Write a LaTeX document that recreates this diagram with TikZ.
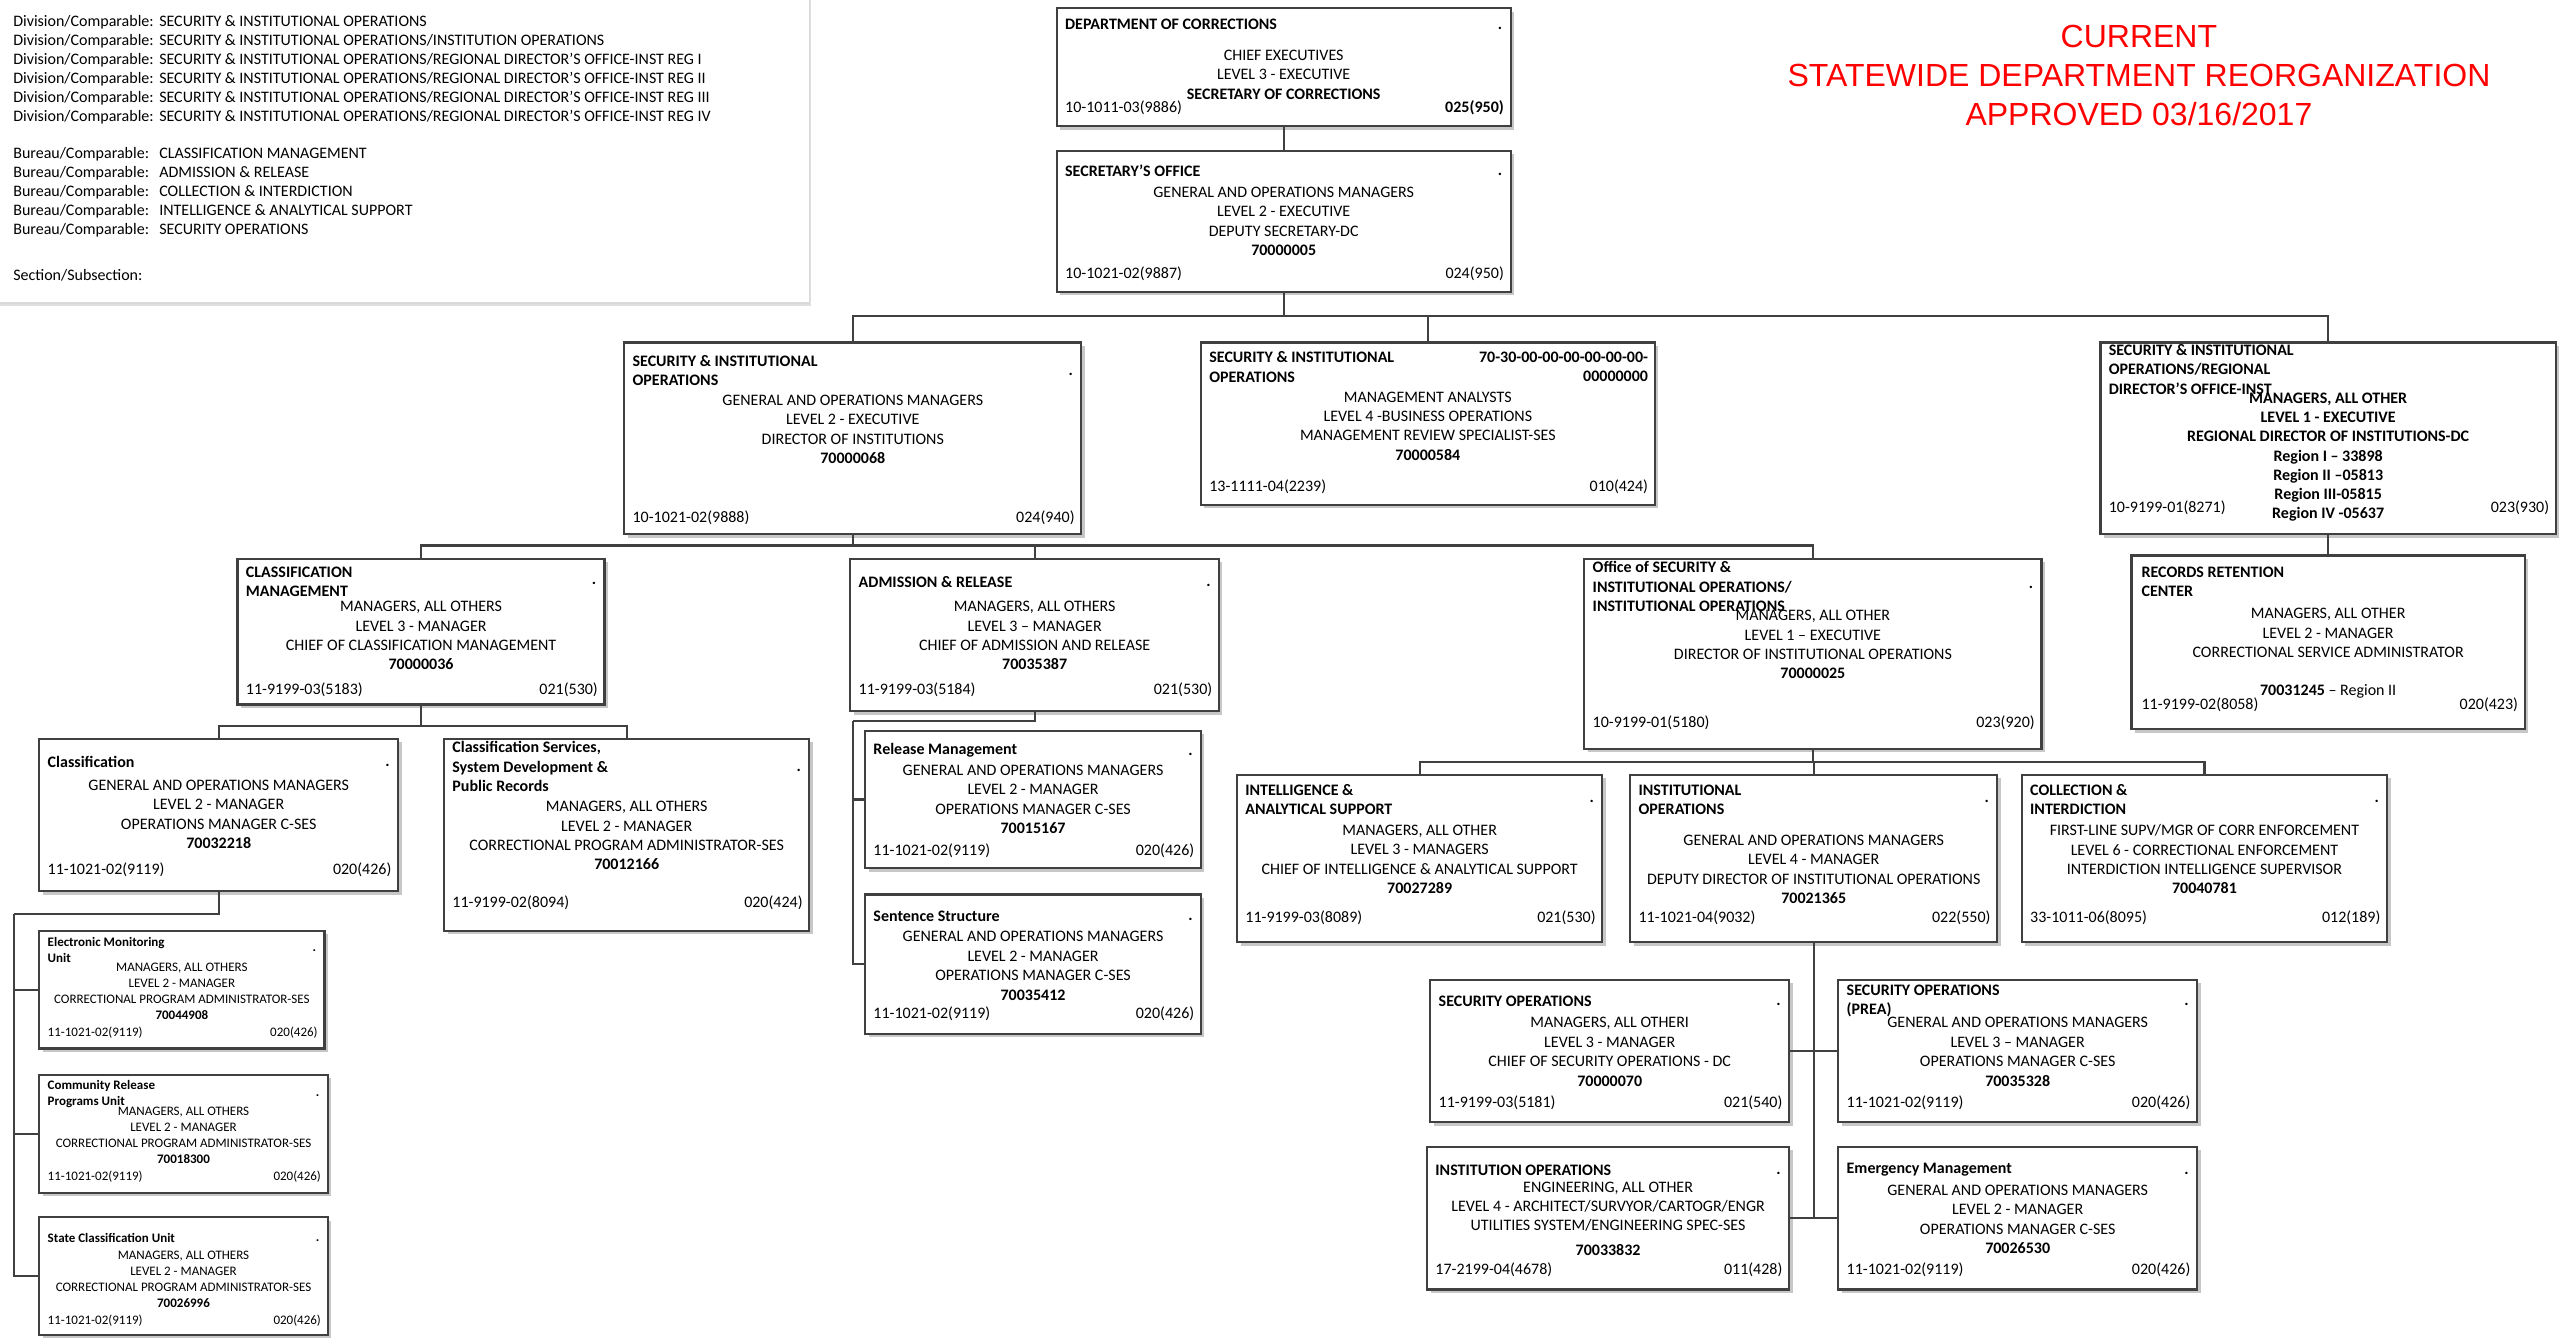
\documentclass[tikz,border=0pt]{standalone}
\usepackage{fontspec}
\setmainfont{Carlito}
\newfontfamily\arialf{Liberation Sans}
\usetikzlibrary{shadows}
\definecolor{boxc}{HTML}{404040}
\newcommand{\OB}[5]{\node[obox, minimum width={(#4-#2)*1.6384pt}, minimum height={(#5-#3)*1.6384pt}] (#1) at ({(#2+#4)/2},{(#3+#5)/2}) {};}
\newcommand{\DCx}{\makebox[146pt][l]{Division/Comparable:}}
\newcommand{\BCx}{\makebox[146pt][l]{Bureau/Comparable:}}
\tikzset{
 obox/.style={draw=boxc, line width=2.2pt, fill=white, inner sep=0pt, drop shadow={shadow xshift=3.5pt, shadow yshift=-3.5pt, fill=black, opacity=0.22}},
 legbox/.style={draw=gray!30, line width=1.5pt, fill=white, inner sep=0pt, drop shadow={shadow xshift=2pt, shadow yshift=-3pt, fill=black, opacity=0.12}},
 conn/.style={draw=boxc, line width=2.2pt},
 ttl/.style={font=\bfseries\fontsize{16}{19.4}\selectfont, align=left, inner sep=0pt, anchor=west},
 bdy/.style={font=\fontsize{16}{19.4}\selectfont, align=center, inner sep=0pt},
 cl/.style={font=\fontsize{16}{19.4}\selectfont, inner sep=0pt, anchor=west},
 cr/.style={font=\fontsize{16}{19.4}\selectfont, inner sep=0pt, anchor=east},
 dotn/.style={font=\bfseries\fontsize{16}{19.4}\selectfont, inner sep=0pt, anchor=base east},
 sttl/.style={ttl, font=\bfseries\fontsize{13}{16}\selectfont},
 sbdy/.style={bdy, font=\fontsize{13}{16}\selectfont},
 scl/.style={cl, font=\fontsize{13}{16}\selectfont},
 scr/.style={cr, font=\fontsize{13}{16}\selectfont},
 sdot/.style={dotn, font=\bfseries\fontsize{13}{16}\selectfont},
 leg/.style={font=\fontsize{16}{19.1}\selectfont, align=left, inner sep=0pt, anchor=west},
 redt/.style={font=\arialf\fontsize{32}{39.3}\selectfont, text=red, align=center, inner sep=0pt}
}
\begin{document}
\begin{tikzpicture}[x=1.6384pt,y=-1.6384pt]
\useasboundingbox (0,0) rectangle (1568,816.65);
% legend
\node[legbox, minimum width={497*1.6384pt}, minimum height={188*1.6384pt}] (legend) at (245.5,91) {};
\node[leg] (legdiv) at (8,42.7) {\DCx SECURITY \& INSTITUTIONAL OPERATIONS\\
\DCx SECURITY \& INSTITUTIONAL OPERATIONS/INSTITUTION OPERATIONS\\
\DCx SECURITY \& INSTITUTIONAL OPERATIONS/REGIONAL DIRECTOR’S OFFICE-INST REG I\\
\DCx SECURITY \& INSTITUTIONAL OPERATIONS/REGIONAL DIRECTOR’S OFFICE-INST REG II\\
\DCx SECURITY \& INSTITUTIONAL OPERATIONS/REGIONAL DIRECTOR’S OFFICE-INST REG III\\
\DCx SECURITY \& INSTITUTIONAL OPERATIONS/REGIONAL DIRECTOR’S OFFICE-INST REG IV};
\node[leg] (legbur) at (8,117.5) {\BCx CLASSIFICATION MANAGEMENT\\
\BCx ADMISSION \& RELEASE\\
\BCx COLLECTION \& INTERDICTION\\
\BCx INTELLIGENCE \& ANALYTICAL SUPPORT\\
\BCx SECURITY OPERATIONS};
\node[leg] (legsec) at (8,168) {Section/Subsection:};
% title
\node[redt] (title) at (1305.5,46) {CURRENT\\STATEWIDE DEPARTMENT REORGANIZATION\\APPROVED 03/16/2017};
% boxes
\OB{doc}{645}{5}{922}{77}
\OB{sec}{645}{92}{922}{178}
\OB{sio}{381}{209}{660}{326}
\OB{ma}{733}{209}{1010}{308}
\OB{rd}{1282}{209}{1560}{326}
\OB{cm}{145}{341}{369}{430}
\OB{ar}{519}{341}{744}{434}
\OB{oio}{967}{341}{1246}{457}
\OB{rec}{1301}{339}{1541}{445}
\OB{cls}{24}{451}{243}{544}
\OB{csv}{271}{451}{494}{568}
\OB{rm}{528}{446}{733}{530}
\OB{ss}{528}{546}{733}{631}
\OB{ia}{755}{473}{978}{575}
\OB{io}{995}{473}{1219}{575}
\OB{ci}{1234}{473}{1457}{575}
\OB{em}{24}{568}{198}{640}
\OB{crp}{24}{656}{200}{728}
\OB{scu}{24}{743}{200}{815}
\OB{so}{873}{598}{1092}{685}
\OB{prea}{1122}{598}{1341}{685}
\OB{iops}{871}{700}{1092}{787}
\OB{emg}{1122}{700}{1341}{787}
% connectors
\coordinate (b1) at (783.5,193);
\draw[conn] (doc.south) -- (sec.north);
\draw[conn] (sec.south) -- (b1);
\draw[conn] (sio.north) |- (b1);
\draw[conn] (rd.north) |- (b1);
\draw[conn] (ma.north) -- (ma.north |- b1);
\draw[conn] (rd.south) -- (rec.north);
\coordinate (b2) at (520.5,333);
\draw[conn] (sio.south) -- (b2);
\draw[conn] (cm.north) |- (b2);
\draw[conn] (oio.north) |- (b2);
\draw[conn] (ar.north) -- (ar.north |- b2);
\coordinate (b3) at (257,443);
\draw[conn] (cm.south) -- (b3);
\draw[conn] (cls.north) |- (b3);
\draw[conn] (csv.north) |- (b3);
\coordinate (b4) at (520.6,440);
\draw[conn] (ar.south) |- (b4);
\draw[conn] (b4) |- (rm.west);
\draw[conn] (b4) |- (ss.west);
\coordinate (b5) at (8.5,558);
\draw[conn] (cls.south) |- (b5);
\draw[conn] (b5) |- (em.west);
\draw[conn] (b5) |- (crp.west);
\draw[conn] (b5) |- (scu.west);
\coordinate (b6) at (1106.5,465);
\draw[conn] (oio.south) -- (b6);
\draw[conn] (ia.north) |- (b6);
\draw[conn] (ci.north) |- (b6);
\draw[conn] (io.north) -- (io.north |- b6);
\draw[conn] (io.south) -- (io.south |- iops.east);
\draw[conn] (so.east) -- (prea.west);
\draw[conn] (iops.east) -- (emg.west);
% texts: DOC
\node[ttl] (doc-t) at (650,15) {DEPARTMENT OF CORRECTIONS};
\node[dotn] (doc-d) at (917,18) {.};
\node[bdy] (doc-b) at (783.5,45.5) {CHIEF EXECUTIVES\\LEVEL 3 - EXECUTIVE\\\textbf{SECRETARY OF CORRECTIONS}};
\node[cl] (doc-l) at (650,66) {10-1011-03(9886)};
\node[cr] (doc-r) at (918,66) {\textbf{025(950)}};
% SEC
\node[ttl] (sec-t) at (650,104) {SECRETARY’S OFFICE};
\node[dotn] (sec-d) at (917,107) {.};
\node[bdy] (sec-b) at (783.5,135) {GENERAL AND OPERATIONS MANAGERS\\LEVEL 2 - EXECUTIVE\\DEPUTY SECRETARY-DC\\\textbf{70000005}};
\node[cl] (sec-l) at (650,167) {10-1021-02(9887)};
\node[cr] (sec-r) at (918,167) {024(950)};
% SIO
\node[ttl] (sio-t) at (386,226) {SECURITY \& INSTITUTIONAL\\OPERATIONS};
\node[dotn] (sio-d) at (655,229) {.};
\node[bdy] (sio-b) at (520.5,262) {GENERAL AND OPERATIONS MANAGERS\\LEVEL 2 - EXECUTIVE\\DIRECTOR OF INSTITUTIONS\\\textbf{70000068}};
\node[cl] (sio-l) at (386,316) {10-1021-02(9888)};
\node[cr] (sio-r) at (656,316) {024(940)};
% MA
\node[ttl] (ma-t) at (738,224) {SECURITY \& INSTITUTIONAL\\OPERATIONS};
\node[ttl, anchor=east, align=right] (ma-c) at (1006,224) {70-30-00-00-00-00-00-00-\\00000000};
\node[bdy] (ma-b) at (871.5,260) {MANAGEMENT ANALYSTS\\LEVEL 4 -BUSINESS OPERATIONS\\MANAGEMENT REVIEW SPECIALIST-SES\\\textbf{70000584}};
\node[cl] (ma-l) at (738,297) {13-1111-04(2239)};
\node[cr] (ma-r) at (1006,297) {010(424)};
% RD
\node[ttl] (rd-t) at (1287,225.5) {SECURITY \& INSTITUTIONAL\\OPERATIONS/REGIONAL\\DIRECTOR’S OFFICE-INST};
\node[bdy, font=\bfseries\fontsize{16}{19.1}\selectfont] (rd-b) at (1421,279) {MANAGERS, ALL OTHER\\LEVEL 1 - EXECUTIVE\\REGIONAL DIRECTOR OF INSTITUTIONS-DC\\Region I – 33898\\Region II –05813\\Region III-05815\\Region IV -05637};
\node[cl] (rd-l) at (1287,310) {10-9199-01(8271)};
\node[cr] (rd-r) at (1556,310) {023(930)};
% CM
\node[ttl] (cm-t) at (150,355) {CLASSIFICATION\\MANAGEMENT};
\node[dotn] (cm-d) at (364,357) {.};
\node[bdy] (cm-b) at (257,388) {MANAGERS, ALL OTHERS\\LEVEL 3 - MANAGER\\CHIEF OF CLASSIFICATION MANAGEMENT\\\textbf{70000036}};
\node[cl] (cm-l) at (150,421) {11-9199-03(5183)};
\node[cr] (cm-r) at (365,421) {021(530)};
% AR
\node[ttl] (ar-t) at (524,355) {ADMISSION \& RELEASE};
\node[dotn] (ar-d) at (739,358) {.};
\node[bdy] (ar-b) at (631.5,388) {MANAGERS, ALL OTHERS\\LEVEL 3 – MANAGER\\CHIEF OF ADMISSION AND RELEASE\\\textbf{70035387}};
\node[cl] (ar-l) at (524,421) {11-9199-03(5184)};
\node[cr] (ar-r) at (740,421) {021(530)};
% OIO
\node[ttl] (oio-t) at (972,358) {Office of SECURITY \&\\INSTITUTIONAL OPERATIONS/\\INSTITUTIONAL OPERATIONS};
\node[dotn] (oio-d) at (1241,359) {.};
\node[bdy] (oio-b) at (1106.5,393.5) {MANAGERS, ALL OTHER\\LEVEL 1 – EXECUTIVE\\DIRECTOR OF INSTITUTIONAL OPERATIONS\\\textbf{70000025}};
\node[cl] (oio-l) at (972,441) {10-9199-01(5180)};
\node[cr] (oio-r) at (1242,441) {023(920)};
% REC
\node[ttl] (rec-t) at (1307,355) {RECORDS RETENTION\\CENTER};
\node[bdy] (rec-b) at (1421,386.5) {MANAGERS, ALL OTHER\\LEVEL 2 - MANAGER\\CORRECTIONAL SERVICE ADMINISTRATOR};
\node[bdy] (rec-n) at (1421,422) {\textbf{70031245} – Region II};
\node[cl] (rec-l) at (1307,430) {11-9199-02(8058)};
\node[cr] (rec-r) at (1537,430) {020(423)};
% CLS
\node[ttl] (cls-t) at (29,465) {Classification};
\node[dotn] (cls-d) at (238,468) {.};
\node[bdy] (cls-b) at (133.5,497) {GENERAL AND OPERATIONS MANAGERS\\LEVEL 2 - MANAGER\\OPERATIONS MANAGER C-SES\\\textbf{70032218}};
\node[cl] (cls-l) at (29,531) {11-1021-02(9119)};
\node[cr] (cls-r) at (239,531) {020(426)};
% CSV
\node[ttl] (csv-t) at (276,468) {Classification Services,\\System Development \&\\Public Records};
\node[dotn] (csv-d) at (489,471) {.};
\node[bdy] (csv-b) at (382.5,510) {MANAGERS, ALL OTHERS\\LEVEL 2 - MANAGER\\CORRECTIONAL PROGRAM ADMINISTRATOR-SES\\\textbf{70012166}};
\node[cl] (csv-l) at (276,551) {11-9199-02(8094)};
\node[cr] (csv-r) at (490,551) {020(424)};
% RM
\node[ttl] (rm-t) at (533,458) {Release Management};
\node[dotn] (rm-d) at (728,461) {.};
\node[bdy] (rm-b) at (630.5,488) {GENERAL AND OPERATIONS MANAGERS\\LEVEL 2 - MANAGER\\OPERATIONS MANAGER C-SES\\\textbf{70015167}};
\node[cl] (rm-l) at (533,519) {11-1021-02(9119)};
\node[cr] (rm-r) at (729,519) {020(426)};
% SS
\node[ttl] (ss-t) at (533,559) {Sentence Structure};
\node[dotn] (ss-d) at (728,562) {.};
\node[bdy] (ss-b) at (630.5,589.5) {GENERAL AND OPERATIONS MANAGERS\\LEVEL 2 - MANAGER\\OPERATIONS MANAGER C-SES\\\textbf{70035412}};
\node[cl] (ss-l) at (533,619) {11-1021-02(9119)};
\node[cr] (ss-r) at (729,619) {020(426)};
% IA
\node[ttl] (ia-t) at (760,488) {INTELLIGENCE \&\\ANALYTICAL SUPPORT};
\node[dotn] (ia-d) at (973,490) {.};
\node[bdy] (ia-b) at (866.5,524.5) {MANAGERS, ALL OTHER\\LEVEL 3 - MANAGERS\\CHIEF OF INTELLIGENCE \& ANALYTICAL SUPPORT\\\textbf{70027289}};
\node[cl] (ia-l) at (760,560) {11-9199-03(8089)};
\node[cr] (ia-r) at (974,560) {021(530)};
% IO
\node[ttl] (io-t) at (1000,488) {INSTITUTIONAL\\OPERATIONS};
\node[dotn] (io-d) at (1214,490) {.};
\node[bdy] (io-b) at (1107,530.5) {GENERAL AND OPERATIONS MANAGERS\\LEVEL 4 - MANAGER\\DEPUTY DIRECTOR OF INSTITUTIONAL OPERATIONS\\\textbf{70021365}};
\node[cl] (io-l) at (1000,560) {11-1021-04(9032)};
\node[cr] (io-r) at (1215,560) {022(550)};
% CI
\node[ttl] (ci-t) at (1239,488) {COLLECTION \&\\INTERDICTION};
\node[dotn] (ci-d) at (1452,490) {.};
\node[bdy] (ci-b) at (1345.5,524.5) {FIRST-LINE SUPV/MGR OF CORR ENFORCEMENT\\LEVEL 6 - CORRECTIONAL ENFORCEMENT\\INTERDICTION INTELLIGENCE SUPERVISOR\\\textbf{70040781}};
\node[cl] (ci-l) at (1239,560) {33-1011-06(8095)};
\node[cr] (ci-r) at (1453,560) {012(189)};
% EM
\node[sttl] (em-t) at (29,580) {Electronic Monitoring\\Unit};
\node[sdot] (em-d) at (193,581) {.};
\node[sbdy] (em-b) at (111,605) {MANAGERS, ALL OTHERS\\LEVEL 2 - MANAGER\\CORRECTIONAL PROGRAM ADMINISTRATOR-SES\\\textbf{70044908}};
\node[scl] (em-l) at (29,630.5) {11-1021-02(9119)};
\node[scr] (em-r) at (194,630.5) {020(426)};
% CRP
\node[sttl] (crp-t) at (29,667.5) {Community Release\\Programs Unit};
\node[sdot] (crp-d) at (195,669) {.};
\node[sbdy] (crp-b) at (112,693) {MANAGERS, ALL OTHERS\\LEVEL 2 - MANAGER\\CORRECTIONAL PROGRAM ADMINISTRATOR-SES\\\textbf{70018300}};
\node[scl] (crp-l) at (29,718) {11-1021-02(9119)};
\node[scr] (crp-r) at (196,718) {020(426)};
% SCU
\node[sttl] (scu-t) at (29,755.5) {State Classification Unit};
\node[sdot] (scu-d) at (195,758) {.};
\node[sbdy] (scu-b) at (112,781) {MANAGERS, ALL OTHERS\\LEVEL 2 - MANAGER\\CORRECTIONAL PROGRAM ADMINISTRATOR-SES\\\textbf{70026996}};
\node[scl] (scu-l) at (29,806) {11-1021-02(9119)};
\node[scr] (scu-r) at (196,806) {020(426)};
% SO
\node[ttl] (so-t) at (878,611) {SECURITY OPERATIONS};
\node[dotn] (so-d) at (1087,614) {.};
\node[bdy] (so-b) at (982.5,642) {MANAGERS, ALL OTHERI\\LEVEL 3 - MANAGER\\CHIEF OF SECURITY OPERATIONS - DC\\\textbf{70000070}};
\node[cl] (so-l) at (878,673) {11-9199-03(5181)};
\node[cr] (so-r) at (1088,673) {021(540)};
% PREA
\node[ttl] (prea-t) at (1127,611) {SECURITY OPERATIONS\\(PREA)};
\node[dotn] (prea-d) at (1336,614) {.};
\node[bdy] (prea-b) at (1231.5,642) {GENERAL AND OPERATIONS MANAGERS\\LEVEL 3 – MANAGER\\OPERATIONS MANAGER C-SES\\\textbf{70035328}};
\node[cl] (prea-l) at (1127,673) {11-1021-02(9119)};
\node[cr] (prea-r) at (1337,673) {020(426)};
% IOPS
\node[ttl] (iops-t) at (876,714) {INSTITUTION OPERATIONS};
\node[dotn] (iops-d) at (1087,717) {.};
\node[bdy] (iops-b) at (981.5,736.5) {ENGINEERING, ALL OTHER\\LEVEL 4 - ARCHITECT/SURVYOR/CARTOGR/ENGR\\UTILITIES SYSTEM/ENGINEERING SPEC-SES};
\node[bdy] (iops-n) at (981.5,763) {\textbf{70033832}};
\node[cl] (iops-l) at (876,775) {17-2199-04(4678)};
\node[cr] (iops-r) at (1088,775) {011(428)};
% EMG
\node[ttl] (emg-t) at (1127,714) {Emergency Management};
\node[dotn] (emg-d) at (1336,717) {.};
\node[bdy] (emg-b) at (1231.5,744.3) {GENERAL AND OPERATIONS MANAGERS\\LEVEL 2 - MANAGER\\OPERATIONS MANAGER C-SES\\\textbf{70026530}};
\node[cl] (emg-l) at (1127,775) {11-1021-02(9119)};
\node[cr] (emg-r) at (1337,775) {020(426)};
\end{tikzpicture}
\end{document}
